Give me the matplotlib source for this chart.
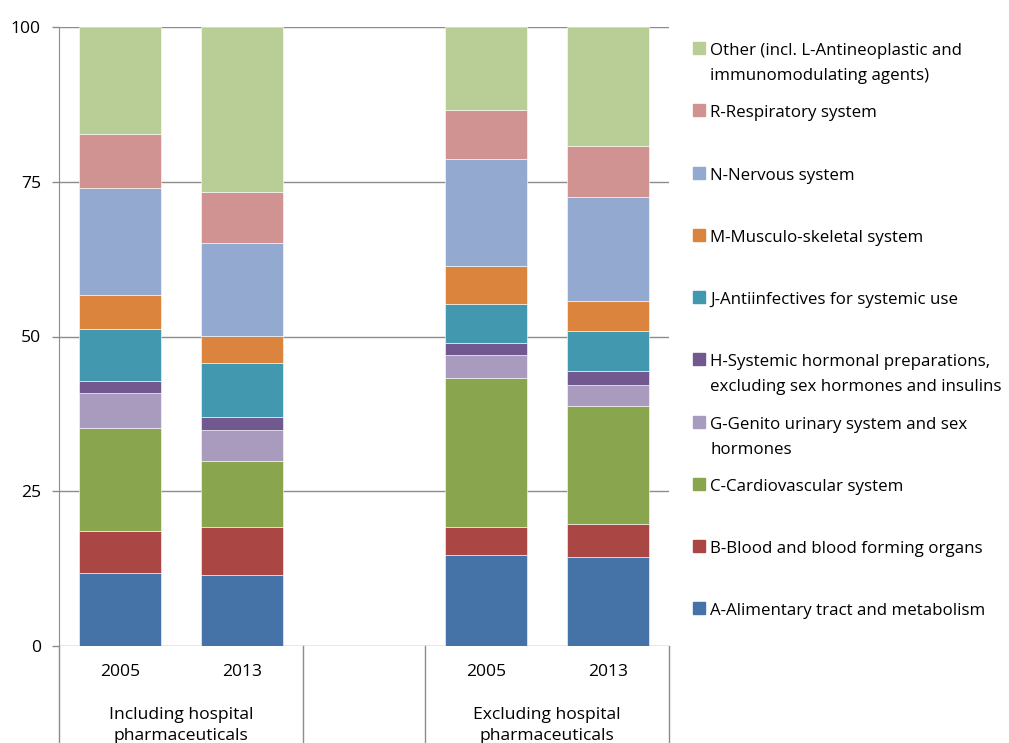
import matplotlib
matplotlib.use("Agg")
import matplotlib.pyplot as plt
from matplotlib.patches import Rectangle
from matplotlib.lines import Line2D
import numpy as np

plt.rcParams['font.family'] = ['Open Sans', 'DejaVu Sans']

years = ["2005", "2013", "", "2005", "2013"]
groups = ["Including hospital\npharmaceuticals", "Excluding hospital\npharmaceuticals"]

series_names = [
    "A-Alimentary tract and metabolism",
    "B-Blood and blood forming organs",
    "C-Cardiovascular system",
    "G-Genito urinary system and sex\nhormones",
    "H-Systemic hormonal preparations,\nexcluding sex hormones and insulins",
    "J-Antiinfectives for systemic use",
    "M-Musculo-skeletal system",
    "N-Nervous system",
    "R-Respiratory system",
    "Other (incl. L-Antineoplastic and\nimmunomodulating agents)",
]
colors = ["#4572A7", "#AA4643", "#89A54E", "#A99BBD", "#71588F",
          "#4198AF", "#DB843D", "#93A9CF", "#D19392", "#B9CD96"]

# values per series for bars: incl 2005, incl 2013, (empty), excl 2005, excl 2013
A = [11.8, 11.5, 0, 14.7, 14.4]
B = [6.8, 7.7, 0, 4.5, 5.3]
C = [16.6, 10.7, 0, 24.1, 19.1]
G = [5.7, 5.0, 0, 3.7, 3.4]
H = [1.9, 2.1, 0, 1.9, 2.2]
J = [8.4, 8.7, 0, 6.4, 6.5]
M = [5.5, 4.4, 0, 6.1, 4.8]
N = [17.3, 15.0, 0, 17.3, 16.8]
R = [8.7, 8.2, 0, 7.9, 8.3]
Other = [17.3, 26.7, 0, 13.4, 19.2]
series = [A, B, C, G, H, J, M, N, R, Other]

FS = 12.6
LFS = 12.2
W, Hh = 1009, 743
fig = plt.figure(figsize=(W / 100, Hh / 100), dpi=100)
ax = fig.add_axes([59 / W, 1 - 646 / Hh, (669 - 59) / W, (646 - 27) / Hh])

x = np.arange(len(years))
bottom = np.zeros(len(years))
for vals, col in zip(series, colors):
    v = np.array(vals, dtype=float)
    mask = v > 0
    ax.bar(x[mask], v[mask], bottom=bottom[mask], width=0.67, color=col,
           edgecolor='white', linewidth=0.4, zorder=3)
    bottom += v

ax.set_xlim(-0.5, 4.5)
ax.set_ylim(0, 100)
ax.set_yticks([0, 25, 50, 75, 100])
ax.set_yticklabels(["0", "25", "50", "75", "100"])
ax.yaxis.grid(True, color="#8c8c8c", linewidth=1.0, zorder=0)
ax.set_axisbelow(True)
for s in ["top", "right", "bottom"]:
    ax.spines[s].set_visible(False)
ax.spines["left"].set_color("#8c8c8c")
ax.tick_params(axis='y', length=5, width=1, color="#8c8c8c", pad=8, labelsize=FS, labelcolor="#000000")
ax.set_xticks([])

# category axis labels and separators
trans = ax.get_xaxis_transform()
for xi, lab in zip(x, years):
    if lab:
        ax.text(xi, -0.042, lab, transform=trans, ha='center', va='center', fontsize=FS)
ax.text(0.5, -0.129, groups[0], transform=trans, ha='center', va='center', fontsize=FS, linespacing=1.42)
ax.text(3.5, -0.129, groups[1], transform=trans, ha='center', va='center', fontsize=FS, linespacing=1.42)
for xs in [-0.5, 1.5, 2.5, 4.5]:
    ax.add_line(Line2D([xs, xs], [0, -0.2], transform=trans, color="#8c8c8c", linewidth=1.0, clip_on=False))

# legend (manual to match uniform spacing)
ys_first = [608, 546, 484, 422, 359, 297, 235, 173, 110, 48]
for name, col, yp in zip(series_names, colors, ys_first):
    fig.patches.append(Rectangle((693 / W, 1 - (yp + 6) / Hh), 12 / W, 12 / Hh,
                                 transform=fig.transFigure, color=col))
    for k, line in enumerate(name.split("\n")):
        fig.text(710 / W, 1 - (yp + 1 + 25 * k) / Hh, line, ha='left', va='center_baseline', fontsize=LFS)

fig.savefig("out.png", dpi=100)
